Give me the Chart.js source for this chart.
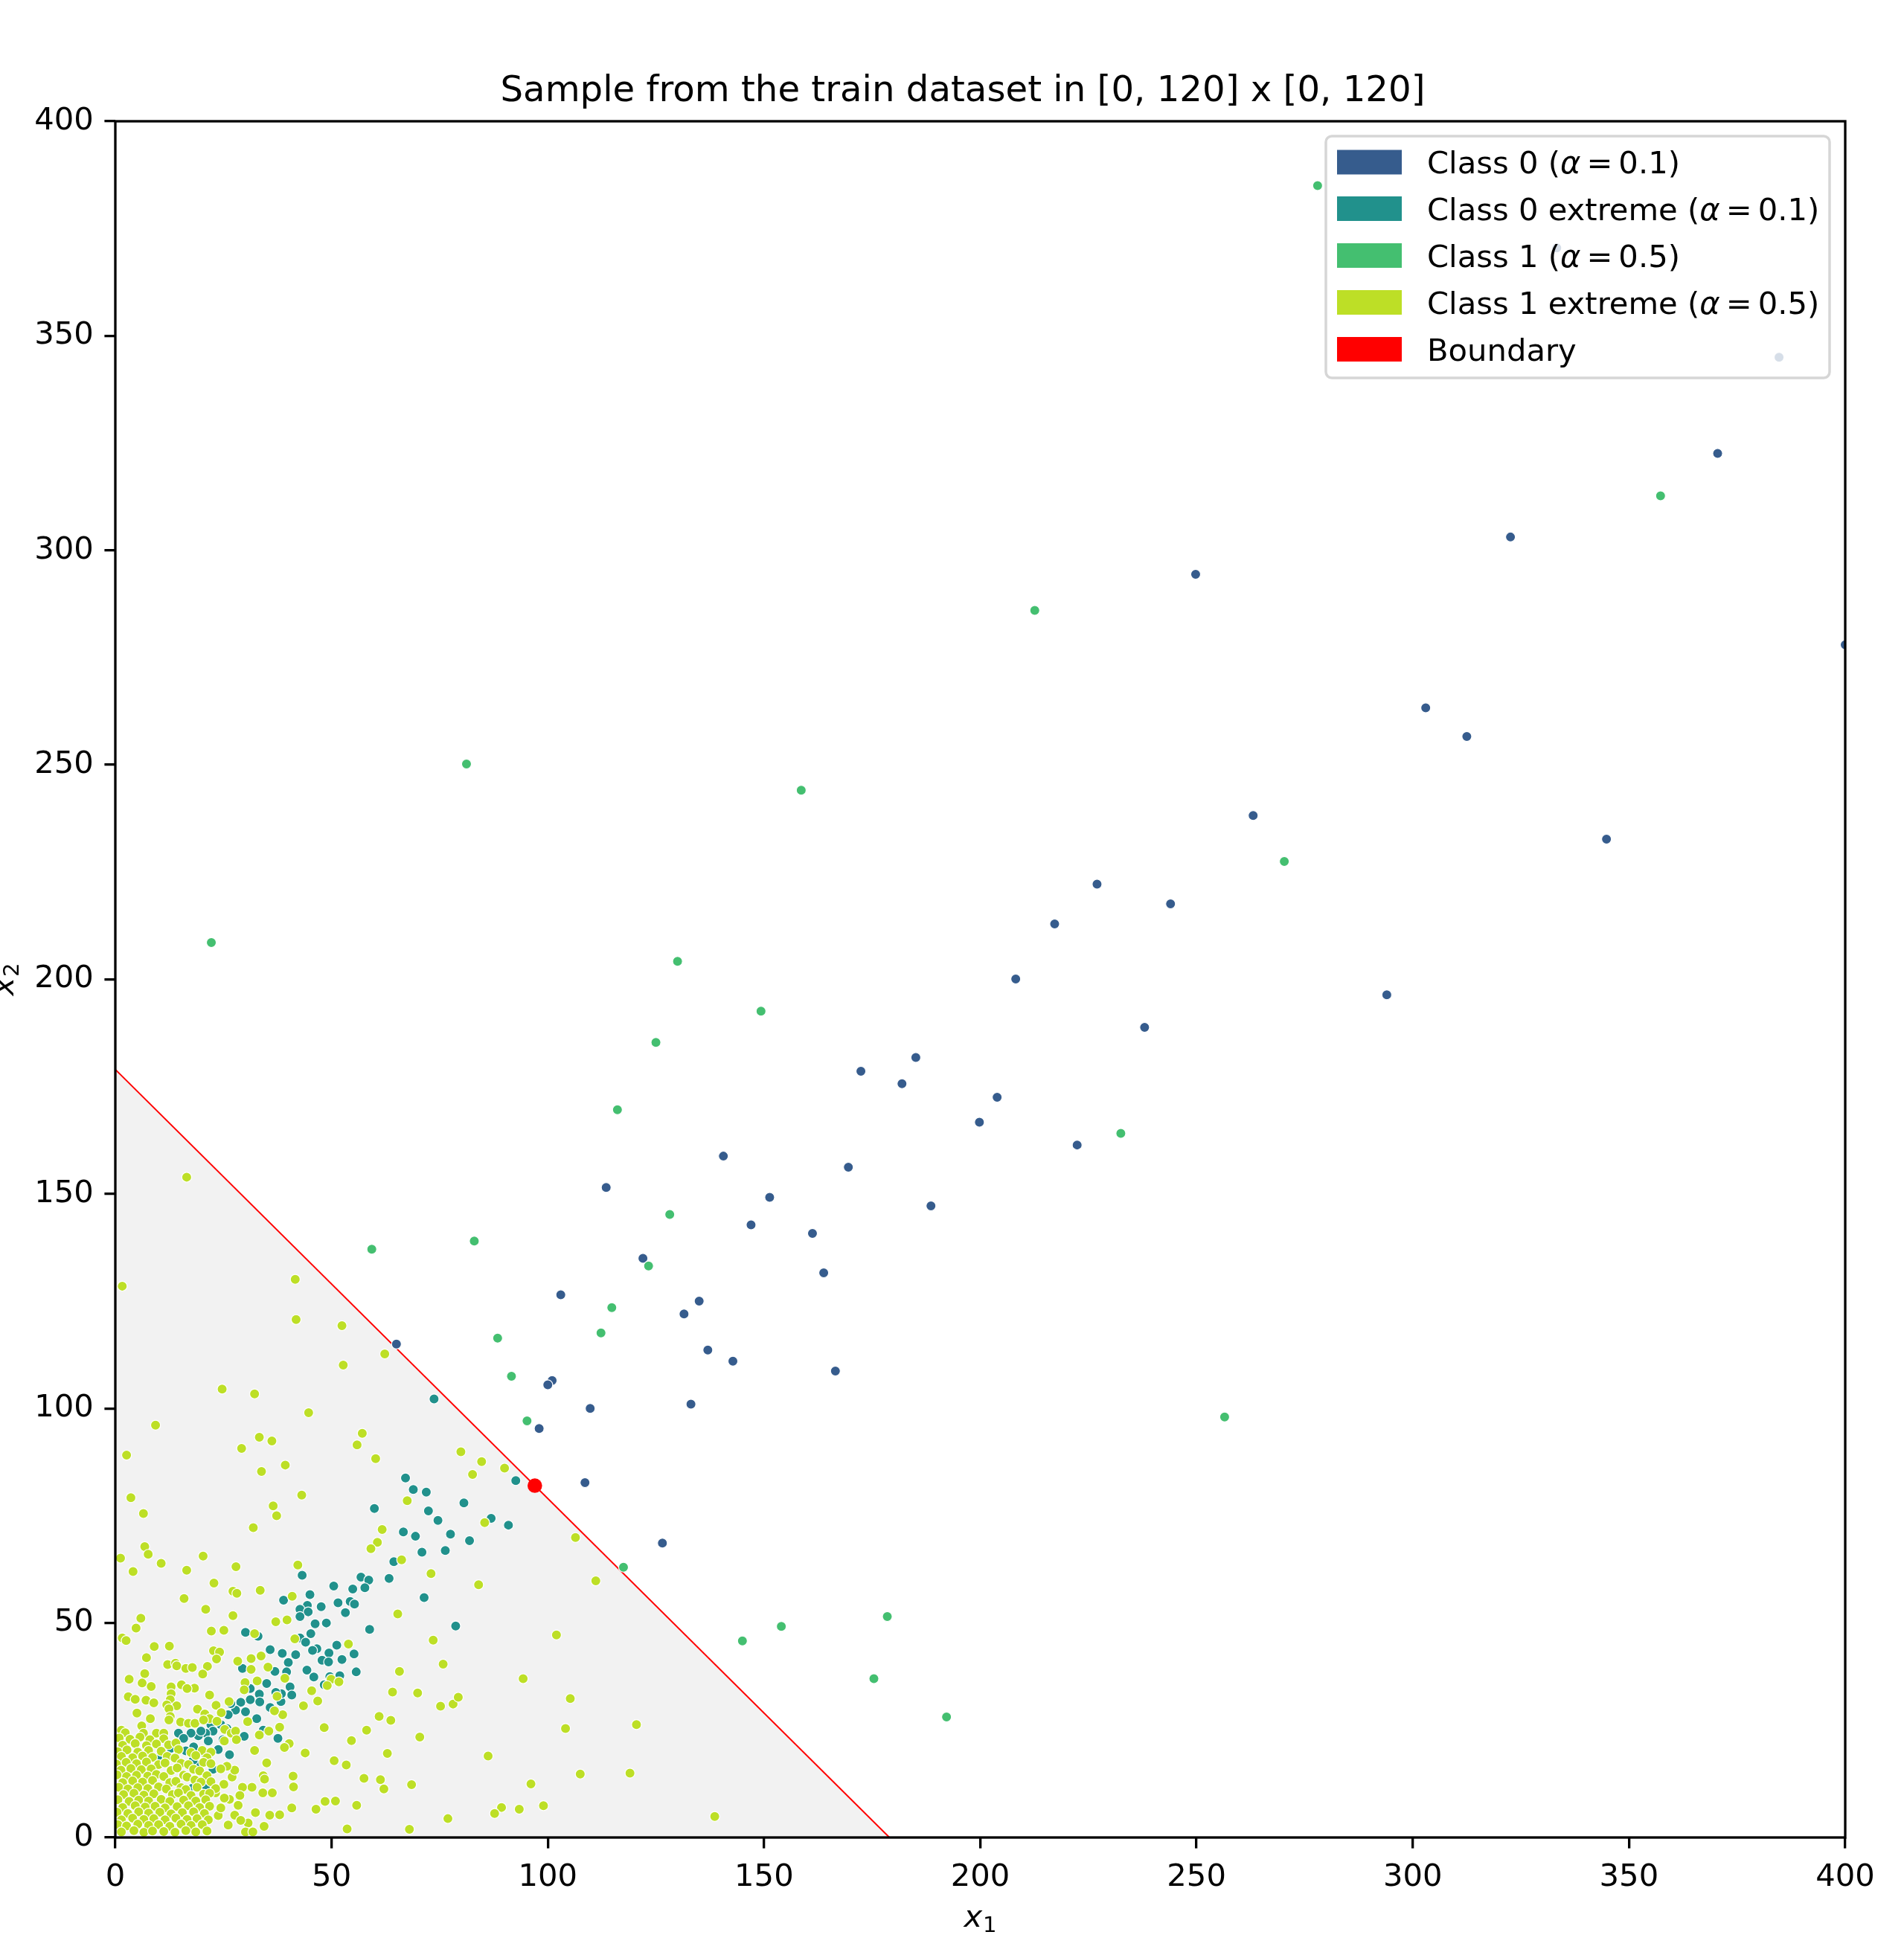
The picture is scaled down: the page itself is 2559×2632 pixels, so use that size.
<!DOCTYPE html>
<html>
<head>
<meta charset="utf-8">
<script src="https://cdn.jsdelivr.net/npm/chart.js@4.4.1/dist/chart.umd.min.js"></script>
<style>
html,body{margin:0;padding:0;background:#ffffff;}
canvas{display:block;}
</style>
</head>
<body>
<canvas id="chart" width="2559" height="2632" style="width:2559px;height:2632px"></canvas>
<script>
// ---------------- DATA ----------------
const titleText = 'Sample from the train dataset in [0, 120] x [0, 120]';
const xTickValues = [0, 50, 100, 150, 200, 250, 300, 350, 400];
const yTickValues = [0, 50, 100, 150, 200, 250, 300, 350, 400];

// Boundary x1 + x2 = 179
const boundaryLine = [[0, 179], [179, 0]];
const boundaryPoint = [[97, 82]];

// Class 0 (alpha = 0.1)
const class0 = [
 [65,115],[113.5,151.5],[103,126.5],[101,106.5],[100,105.5],[98,95.3],[109.8,100],[108.6,82.7],
 [122,135],[131.5,122],[135,125],[137,113.6],[142.8,111],[133.1,101],[126.5,68.6],[140.6,158.8],
 [147,142.8],[151.3,149.2],[161.2,140.8],[163.8,131.6],[166.5,108.7],[169.5,156.2],[172.4,178.6],
 [181.9,175.7],[185.1,181.8],[188.6,147.2],[199.8,166.7],[203.9,172.5],[208.2,200.1],[217.2,212.9],
 [222.4,161.4],[227,222.2],[238,188.8],[244,217.6],[249.8,294.4],[263.1,238.2],[294,196.4],
 [303,263.3],[312.5,256.6],[322.6,303.1],[344.8,232.7],[370.5,322.6],[400,278],[384.7,345],[333.3,370.5]
];

// Class 0 extreme (alpha = 0.1)
const class0Extreme = [
 [73.7,102.2],
 [67.1,83.8],[68.9,81.1],[71.9,80.5],[59.9,76.7],[72.4,76.1],[74.6,73.9],[80.6,78.0],[86.9,74.4],
 [90.9,72.8],[92.6,83.2],[66.6,71.2],[69.4,70.2],[77.5,70.7],[81.9,69.2],[70.9,66.5],[76.3,66.9],
 [64.4,64.3],[63.3,60.4],[56.8,60.7],[58.6,60.0],[57.7,58.2],[54.9,57.9],[50.5,58.6],[71.4,55.9],
 [43.2,61.1],[45.0,56.6],[38.9,55.3],[51.5,54.7],[54.3,55.0],[55.3,54.4],[53.2,52.4],[47.6,53.8],
 [44.4,54.1],[42.7,53.2],[44.6,52.6],[78.7,49.3],[58.8,48.5],
 [30.1,47.8],[33.0,46.9],[42.7,51.5],[46.2,49.8],[48.8,50.0],[45.2,47.5],[42.7,46.5],[44.0,45.5],
 [35.8,43.8],[38.6,42.9],[41.7,42.6],[40.0,40.8],[36.9,38.7],[39.6,38.6],[29.4,39.4],[44.3,39.0],
 [46.6,44.0],[45.6,43.6],[47.8,41.3],[49.4,43.0],[49.3,40.9],[51.2,44.8],[52.4,41.5],[55.2,42.8],
 [55.7,38.6],[45.9,37.4],[48.3,35.6],[49.6,37.5],[51.9,37.7],[35.0,35.9],[33.3,33.4],[31.2,32.1],
 [33.4,31.6],[31.2,34.7],[29.0,31.5],[27.8,29.7],[26.7,31.2],[30.1,29.3],[32.7,27.7],[35.8,30.3],
 [38.3,31.7],[40.4,35.1],[40.8,33.2],[38.4,33.5],[37.1,33.8],[22.1,26.3],[22.6,24.8],[24.4,26.3],
 [25.8,25.4],[20.9,24.3],[19.2,23.7],[17.5,24.3],[14.6,24.3],[15.8,23.1],[29.8,23.6],[37.6,23.1],
 [26.1,28.6],[18.1,21.1],[16.3,20.2],[23.8,20.5],[26.4,19.3],[22.6,15.9],[19.5,16.9],[17.8,11.5],
 [20.9,12.1],[9.8,18.6],[12.9,20.8],[19.8,24.8],[24.4,28.9],[34.2,25.0],[21.5,22.5],[24.9,22.8],
 [18.0,18.0],[21.0,18.9]
];

// Class 1 (alpha = 0.5)
const class1 = [
 [278,385],[357.3,312.7],[212.6,286],[81.2,250.2],[158.6,244.1],[270.3,227.5],[22.2,208.6],
 [130,204.2],[149.3,192.6],[125,185.3],[116.1,169.6],[232.5,164.1],[128.2,145.2],[59.3,137.1],
 [83,139],[123.3,133.2],[114.8,123.5],[112.3,117.6],[88.4,116.4],[91.6,107.5],[95.2,97.1],
 [256.5,98],[117.5,63],[145,45.8],[154,49.2],[178.5,51.5],[175.4,37],[192.2,28.1]
];

// Class 1 extreme (alpha = 0.5) - sparse upper part
const class1ExtremeUpper = [
 [16.5,153.9],[1.6,128.5],[41.6,130.1],[41.8,120.7],[52.4,119.3],[62.3,112.7],[52.7,110.1],
 [24.7,104.5],[32.2,103.4],[44.7,99.0],
 [9.3,96.1],[2.6,89.1],[3.6,79.2],[6.5,75.5],[6.8,67.8],[7.6,66.0],[1.2,65.1],[4.1,62.0],
 [10.6,63.9],[16.5,62.3],[20.3,65.6],[22.8,59.3],[15.9,55.7],[20.9,53.2],
 [33.3,93.3],[36.2,92.4],[29.2,90.7],[57.1,94.2],[55.9,91.5],[60.2,88.3],[39.3,86.8],[33.8,85.3],
 [43.1,79.8],[36.5,77.3],[37.3,75.0],[31.9,72.2],[79.9,89.9],[84.7,87.6],[82.6,84.6],[90.0,86.1],
 [67.5,78.5],[61.7,71.8],[60.6,68.8],[59.1,67.3],[66.2,64.7],[85.4,73.4],[73.0,61.5],[84.0,58.9],
 [27.9,63.1],[42.2,63.5],[27.2,57.4],[28.1,56.9],[33.5,57.6],[40.9,56.2],[65.3,52.1],[73.5,46.0],
 [75.8,40.4],[65.7,38.7],[64.1,33.9],[69.9,33.7],[75.2,30.6],[78.1,31.1],[79.3,32.7],[94.3,37.0],
 [61.0,28.2],[63.7,27.3]
];

// Class 1 extreme - right part of the grey triangle
const class1ExtremeRight = [
 [106.4,69.9],[111.1,59.8],[102.0,47.2],[105.2,32.4],[58.1,25.0],[70.4,23.4],[104.1,25.4],
 [120.5,26.3],[62.9,19.6],[86.2,19.0],[57.5,13.8],[61.3,13.5],[62.1,11.3],[68.5,12.3],
 [107.5,14.8],[119.0,15.0],[96.1,12.5],[89.3,7.0],[87.7,5.6],[93.4,6.6],[99.0,7.4],[76.9,4.4],
 [68.0,1.9],[138.6,4.9]
];

// Class 1 extreme - lower-left corner (0..56 x 0..52)
const class1ExtremeCorner = [
 [5.9,51.1],[4.8,48.8],[1.6,46.5],[2.5,45.9],[22.2,48.1],[25.1,48.3],[27.2,51.7],[32.2,47.5],
 [37.1,50.3],[39.7,50.7],[41.5,46.3],[9.0,44.5],[12.5,44.6],[53.9,45.1],[7.2,41.9],[22.7,43.5],
 [24.1,43.2],[23.4,41.6],[12.1,40.3],[13.9,40.6],[14.2,40.0],[16.3,39.4],[17.8,39.6],[21.3,39.9],
 [20.2,38.1],[28.3,41.1],[31.4,41.7],[33.7,42.3],[35.3,39.7],[31.4,39.2],[6.8,38.2],[3.2,36.9],
 [6.2,36.0],[8.3,35.2],[12.9,35.1],[15.3,35.6],[18.3,34.8],[16.6,34.7],[49.9,36.9],[51.7,36.3],
 [49.0,35.4],[39.2,37.1],[30.0,36.1],[32.8,36.5],[29.8,34.4],[45.4,34.2],[46.8,31.8],[43.5,30.7],
 [3.0,32.8],[4.6,32.2],[7.1,32.0],[8.9,31.4],[12.9,33.5],[12.7,32.1],[11.9,30.9],[14.2,30.7],
 [12.4,30.0],[5.0,29.0],[8.1,27.7],[21.8,33.2],[23.3,30.8],[19.0,29.9],[20.7,28.8],[21.8,27.7],
 [24.5,29.1],[26.3,31.7],[37.4,32.9],[38.7,28.6],[36.8,29.5],[30.6,27.0],[12.7,28.2],[12.4,27.4],
 [1.4,25.0],[2.3,24.4],[6.1,26.0],[6.5,24.3],[9.5,24.3],[11.2,24.3],[15.1,26.9],[16.9,26.6],
 [18.4,26.6],[20.4,27.4],[23.5,27.1],[25.3,25.2],[26.8,24.3],[27.8,24.8],[28.0,22.8],[25.2,22.5],
 [33.3,23.9],[35.5,24.8],[38.0,25.7],[40.2,21.9],[39.1,21.0],[48.3,25.6],[54.6,22.6],[32.2,20.3],
 [35.0,17.4],[34.2,14.4],[34.5,13.6],[41.1,14.3],[41.2,11.8],[34.1,10.4],[36.3,10.4],[31.6,11.7],
 [29.4,11.7],[28.8,9.8],[25.1,12.4],[27.0,14.1],[27.6,15.7],[25.8,16.6],[24.4,16.0],[43.9,19.7],
 [50.6,17.9],[53.4,16.9],[48.5,8.4],[50.9,8.5],[55.8,7.5],[40.8,6.9],[46.4,6.6],[38.0,5.3],
 [35.7,5.2],[32.4,5.8],[34.4,2.6],[30.7,3.4],[30.1,1.3],[31.8,1.3],[27.6,5.2],[26.1,2.9],
 [23.8,5.1],[53.6,2.0],[26.4,8.9],[23.2,10.4],[25.2,9.2],[28.4,7.5],[29.0,4.0],[24.4,6.9]
];

// Class 1 extreme - densest blob near the origin
const class1ExtremeDense = [
 [0.9,23.2],[3.4,22.9],[5.7,23.4],[8.0,22.8],[11.2,23.0],
 [1.7,21.5],[4.6,21.9],[7.2,21.4],[9.5,21.8],[12.3,21.6],[14.0,22.0],
 [0.6,20.0],[2.7,20.4],[5.2,19.9],[7.7,20.3],[10.6,20.1],[14.6,20.5],[17.5,19.8],[20.1,20.3],[22.1,19.9],
 [1.4,18.9],[4.0,18.6],[6.3,19.0],[8.6,18.7],[12.0,18.9],[13.8,18.5],[18.6,19.1],[21.2,18.6],
 [0.3,17.1],[2.5,17.5],[4.9,17.2],[7.2,17.6],[10.0,17.0],[11.5,17.4],[15.2,17.3],[16.9,17.0],[20.4,17.5],[22.1,17.2],
 [1.3,15.7],[3.6,16.1],[6.0,15.8],[8.3,16.0],[12.9,15.6],[14.3,16.2],[18.1,15.9],[19.5,15.5],
 [0.4,14.6],[2.6,14.2],[4.9,14.5],[7.5,14.3],[9.5,14.7],[11.2,14.2],[15.8,14.5],[16.6,14.1],[21.2,14.4],
 [1.7,12.8],[4.0,13.2],[6.3,12.9],[8.6,13.3],[12.6,12.8],[14.0,13.1],[18.4,13.4],[19.8,12.9],[22.1,13.0],
 [0.8,11.7],[2.9,11.3],[5.2,11.6],[7.5,11.4],[10.0,11.8],[11.8,11.3],[15.2,11.6],[16.3,11.2],[18.9,11.7],[23.2,11.4],
 [1.9,10.0],[4.3,10.3],[6.6,9.9],[8.9,10.2],[13.2,10.0],[14.6,10.4],[17.5,9.8],[20.4,10.1],[21.8,10.3],
 [0.6,8.8],[3.2,8.4],[5.4,8.7],[7.7,8.5],[10.6,8.9],[12.6,8.4],[15.8,8.7],[18.6,8.5],[20.9,8.8],
 [1.7,7.0],[4.6,7.4],[6.9,7.1],[9.2,7.3],[11.5,6.9],[14.3,7.2],[16.9,7.4],[19.5,7.0],[21.8,7.3],
 [0.4,5.9],[2.9,5.6],[5.4,6.0],[7.7,5.7],[10.3,5.9],[12.9,5.5],[15.5,5.8],[18.1,6.0],[20.6,5.6],
 [1.4,4.1],[4.0,4.5],[6.6,4.2],[8.9,4.4],[11.5,4.1],[14.0,4.5],[16.6,4.2],[18.9,4.4],[21.5,4.1],
 [0.6,3.0],[2.6,2.7],[5.2,3.1],[7.7,2.8],[10.0,3.0],[12.6,2.6],[15.2,3.1],[17.5,2.8],[20.1,3.0],
 [1.4,1.3],[4.3,1.6],[6.6,1.2],[8.6,1.5],[11.2,1.4],[13.8,1.2],[16.3,1.6],[18.6,1.3],[21.2,1.5]
];

const class1Extreme = class1ExtremeUpper.concat(class1ExtremeRight, class1ExtremeCorner, class1ExtremeDense);

const legendLabels = [
  {pre: 'Class 0 (', val: '0.1)'},
  {pre: 'Class 0 extreme (', val: '0.1)'},
  {pre: 'Class 1 (', val: '0.5)'},
  {pre: 'Class 1 extreme (', val: '0.5)'},
  {text: 'Boundary'}
];

// ---------------- STYLE ----------------
const FAMILY = "'DejaVu Sans', 'Liberation Sans', sans-serif";
const COLORS = ['#365c8d', '#21918c', '#44bf70', '#bddf26', '#ff0000'];
const TICK_FONT = 41.7;
const PLOT = {left: 155, top: 163, right: 2480, bottom: 2470};

const toXY = arr => arr.map(p => ({x: p[0], y: p[1]}));

function pointSet(label, arr, color, order) {
  return {
    label: label, data: toXY(arr), backgroundColor: color, borderColor: '#ffffff',
    borderWidth: 1.2, pointRadius: 6.6, pointHoverRadius: 6.6, order: order, clip: 0
  };
}

const framePlugin = {
  id: 'frame',
  afterDatasetsDraw(chart) {
    const ctx = chart.ctx, a = chart.chartArea;
    ctx.save();
    ctx.strokeStyle = '#000000';
    ctx.lineWidth = 3.3;
    ctx.strokeRect(a.left, a.top, a.right - a.left, a.bottom - a.top);
    ctx.restore();
  }
};

const textPlugin = {
  id: 'texts',
  afterDraw(chart) {
    const ctx = chart.ctx, a = chart.chartArea;
    const cx = (a.left + a.right) / 2;
    ctx.save();
    ctx.fillStyle = '#000000';
    // title
    ctx.font = '48.2px ' + FAMILY;
    ctx.textAlign = 'center';
    ctx.textBaseline = 'alphabetic';
    ctx.fillText(titleText, 1294, 136);

    // axis labels (math italic with subscript)
    const F = 41.7, S = F * 0.7;
    ctx.textAlign = 'left';
    function mathLabel(sub, x0, base) {
      ctx.font = 'italic ' + F + 'px ' + FAMILY;
      const wx = ctx.measureText('x').width;
      ctx.fillText('x', x0, base);
      ctx.font = S + 'px ' + FAMILY;
      ctx.fillText(sub, x0 + wx + 1, base + 7);
    }
    function labelWidth(sub) {
      ctx.font = 'italic ' + F + 'px ' + FAMILY;
      const wx = ctx.measureText('x').width;
      ctx.font = S + 'px ' + FAMILY;
      return wx + 1 + ctx.measureText(sub).width;
    }
    const w1 = labelWidth('1');
    mathLabel('1', cx - w1 / 2, 2590);
    const w2 = labelWidth('2');
    ctx.save();
    ctx.translate(18, (a.top + a.bottom) / 2);
    ctx.rotate(-Math.PI / 2);
    mathLabel('2', -w2 / 2, 0);
    ctx.restore();

    // legend
    const bx = 1782, by = 183, bw = 677, bh = 325;
    ctx.beginPath();
    ctx.roundRect(bx, by, bw, bh, 8);
    ctx.fillStyle = 'rgba(255,255,255,0.8)';
    ctx.fill();
    ctx.lineWidth = 3.5;
    ctx.strokeStyle = 'rgba(204,204,204,0.8)';
    ctx.stroke();
    const rows = [218, 280.5, 343.5, 406.5, 469.5];
    const gap = 8;
    legendLabels.forEach((item, i) => {
      const c = rows[i];
      ctx.fillStyle = COLORS[i];
      ctx.fillRect(1797, c - 16.5, 87, 33);
      ctx.fillStyle = '#000000';
      const base = c + 15;
      let x = 1918;
      ctx.font = F + 'px ' + FAMILY;
      if (item.text) {
        ctx.fillText(item.text, x, base);
      } else {
        ctx.fillText(item.pre, x, base);
        x += ctx.measureText(item.pre).width;
        ctx.font = 'italic ' + F + 'px ' + FAMILY;
        ctx.fillText('\u03b1', x, base);
        x += ctx.measureText('\u03b1').width + gap;
        ctx.font = F + 'px ' + FAMILY;
        ctx.fillText('=', x, base);
        x += ctx.measureText('=').width + gap;
        ctx.fillText(item.val, x, base);
      }
    });
    ctx.restore();
  }
};

const ctx = document.getElementById('chart').getContext('2d');
new Chart(ctx, {
  type: 'scatter',
  data: {
    datasets: [
      {
        label: 'Boundary line', type: 'line', data: toXY(boundaryLine),
        borderColor: '#ff0000', borderWidth: 2, pointRadius: 0, pointHoverRadius: 0,
        fill: 'origin', backgroundColor: '#f2f2f2', tension: 0, order: 10, clip: 0
      },
      pointSet('Class 0 extreme', class0Extreme, COLORS[1], 6),
      pointSet('Class 1 extreme', class1Extreme, COLORS[3], 5),
      pointSet('Class 0', class0, COLORS[0], 4),
      pointSet('Class 1', class1, COLORS[2], 3),
      {
        label: 'Boundary', data: toXY(boundaryPoint), backgroundColor: COLORS[4],
        borderWidth: 0, pointRadius: 9.8, pointHoverRadius: 9.8, order: 0, clip: 0
      }
    ]
  },
  options: {
    responsive: false,
    animation: false,
    devicePixelRatio: 1,
    events: [],
    layout: {padding: {left: 0, right: 2559 - PLOT.right, top: PLOT.top, bottom: 0}},
    plugins: {legend: {display: false}, title: {display: false}, tooltip: {enabled: false}},
    scales: {
      x: {
        type: 'linear', min: 0, max: 400,
        afterBuildTicks: s => { s.ticks = xTickValues.map(v => ({value: v})); },
        ticks: {font: {family: FAMILY, size: TICK_FONT}, color: '#000000', padding: 14.6, maxRotation: 0, autoSkip: false},
        grid: {drawOnChartArea: false, drawTicks: true, tickLength: 14.6, tickWidth: 3.3, tickColor: '#000000', lineWidth: 3.3, color: '#000000'},
        border: {display: false},
        afterFit: s => { s.height = 2632 - PLOT.bottom; }
      },
      y: {
        type: 'linear', min: 0, max: 400,
        afterBuildTicks: s => { s.ticks = yTickValues.map(v => ({value: v})); },
        ticks: {font: {family: FAMILY, size: TICK_FONT}, color: '#000000', padding: 14.6, autoSkip: false},
        grid: {drawOnChartArea: false, drawTicks: true, tickLength: 14.6, tickWidth: 3.3, tickColor: '#000000', lineWidth: 3.3, color: '#000000'},
        border: {display: false},
        afterFit: s => { s.width = PLOT.left; }
      }
    }
  },
  plugins: [framePlugin, textPlugin]
});
</script>
</body>
</html>
